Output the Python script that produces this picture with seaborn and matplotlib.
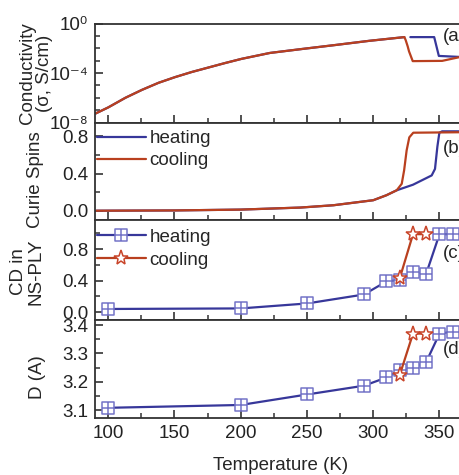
import numpy as np
import pandas as pd
import matplotlib
matplotlib.use("Agg")
import matplotlib.pyplot as plt
import seaborn as sns
from matplotlib.path import Path
from matplotlib.ticker import FixedLocator, MultipleLocator, NullFormatter, FormatStrFormatter

# ---------------- data ----------------
# (a) conductivity, shared part (log10 sigma)
cond_T_common = [90.5, 100, 113, 125.5, 138, 150.5, 163, 175.5, 188, 200.5, 222, 247, 272, 297, 323.5]
cond_log_common = [-7.27, -6.78, -6.0, -5.36, -4.79, -4.33, -3.92, -3.56, -3.20, -2.86, -2.38,
                   -2.05, -1.73, -1.40, -1.10]
cond_T_cool_hi = [324.5, 326.0, 327.0, 329.8, 352.0, 365.0]
cond_log_cool_hi = [-1.35, -1.85, -2.25, -3.04, -3.02, -2.72]
cond_T_heat_hi = [328.0, 346.0, 349.5, 365.0]
cond_log_heat_hi = [-1.10, -1.10, -2.62, -2.70]

# (b) Curie spins
spin_T_common = [91, 150, 200, 245, 270, 300, 310, 317.7]
spin_common = [0.0, 0.003, 0.012, 0.034, 0.059, 0.113, 0.167, 0.22]
spin_T_cool_hi = [321.5, 323.3, 325.2, 327.2, 330.2, 365]
spin_cool_hi = [0.29, 0.435, 0.65, 0.79, 0.84, 0.845]
spin_T_heat_hi = [330, 344.1, 346.6, 348.4, 349.9, 352, 365]
spin_heat_hi = [0.28, 0.38, 0.45, 0.69, 0.84, 0.855, 0.855]

# (c) CD in NS-PLY
cd_T_heat = [100, 200, 250, 293, 310, 320, 330, 340, 350, 360]
cd_heat = [0.04, 0.047, 0.11, 0.224, 0.39, 0.41, 0.506, 0.49, 0.99, 0.99]
cd_T_cool = [320, 330, 340]
cd_cool = [0.43, 0.99, 0.99]

# (d) D (A)
d_T_heat = [100, 200, 250, 293, 310, 320, 330, 340, 350, 360]
d_heat = [3.108, 3.118, 3.155, 3.186, 3.215, 3.24, 3.248, 3.27, 3.37, 3.377]
d_T_cool = [320, 330, 340]
d_cool = [3.224, 3.37, 3.37]

x_ticks = [100, 150, 200, 250, 300, 350]
cond_tick_labels = ["10\u207b\u2078", "10\u207b\u2074", "10\u2070"]
labels = ["heating", "cooling"]

# ---------------- style ----------------
sns.set_style("ticks")
plt.rcParams["font.family"] = ["Liberation Sans", "DejaVu Sans"]

FS = 13.5
BLUE = "#37379a"
RED = "#b9401f"
SQ_EDGE = "#7474c8"
STAR_EDGE = "#c9452a"
SPINE = "#333333"

fig = plt.figure(figsize=(4.6, 4.75), dpi=100)
W, H = 460.0, 475.0
left_px, right_px = 95.0, 466.0
panels_px = [(23.5, 122.5), (122.5, 220.0), (220.0, 320.0), (320.0, 418.0)]
axes = []
for top, bot in panels_px:
    ax = fig.add_axes([left_px / W, 1 - bot / H, (right_px - left_px) / W, (bot - top) / H])
    axes.append(ax)
axA, axB, axC, axD = axes

# square-with-plus marker
sq_plus = Path(
    [(-1, -1), (1, -1), (1, 1), (-1, 1), (-1, -1), (-1, 0), (1, 0), (0, -1), (0, 1)],
    [Path.MOVETO, Path.LINETO, Path.LINETO, Path.LINETO, Path.CLOSEPOLY,
     Path.MOVETO, Path.LINETO, Path.MOVETO, Path.LINETO],
)

# ---------------- (a) ----------------
heat_a = pd.DataFrame({
    "T": cond_T_common + cond_T_heat_hi,
    "sigma": [10 ** v for v in cond_log_common + cond_log_heat_hi],
    "seg": [0] * len(cond_T_common) + [1] * len(cond_T_heat_hi),
})
cool_a = pd.DataFrame({
    "T": cond_T_common + cond_T_cool_hi,
    "sigma": [10 ** v for v in cond_log_common + cond_log_cool_hi],
})
sns.lineplot(data=heat_a, x="T", y="sigma", units="seg", estimator=None, sort=False,
             ax=axA, color=BLUE, lw=1.6)
sns.lineplot(data=cool_a, x="T", y="sigma", estimator=None, sort=False,
             ax=axA, color=RED, lw=1.6)
axA.set_yscale("log")
axA.set_ylim(1e-8, 1)
axA.yaxis.set_major_locator(FixedLocator([1e-8, 1e-4, 1]))
axA.set_yticklabels(cond_tick_labels)
axA.yaxis.set_minor_locator(FixedLocator([10.0 ** k for k in range(-7, 0)]))
axA.yaxis.set_minor_formatter(NullFormatter())

# ---------------- (b) ----------------
heat_b = pd.DataFrame({"T": spin_T_common + spin_T_heat_hi, "v": spin_common + spin_heat_hi})
cool_b = pd.DataFrame({"T": spin_T_common + spin_T_cool_hi, "v": spin_common + spin_cool_hi})
sns.lineplot(data=heat_b, x="T", y="v", estimator=None, sort=False, ax=axB, color=BLUE, lw=1.6, label=labels[0])
sns.lineplot(data=cool_b, x="T", y="v", estimator=None, sort=False, ax=axB, color=RED, lw=1.6, label=labels[1])
axB.set_ylim(-0.1, 0.95)
axB.yaxis.set_major_locator(FixedLocator([0.0, 0.4, 0.8]))
axB.yaxis.set_minor_locator(MultipleLocator(0.2))

# ---------------- (c) ----------------
mk_heat = dict(marker=sq_plus, markersize=8, markerfacecolor="white",
               markeredgecolor=SQ_EDGE, markeredgewidth=1.1)
mk_cool = dict(marker="*", markersize=11, markerfacecolor="white",
               markeredgecolor=STAR_EDGE, markeredgewidth=1.1)
sns.lineplot(x=cd_T_heat, y=cd_heat, estimator=None, sort=False, ax=axC, color=BLUE, lw=1.6,
             label=labels[0], **mk_heat)
sns.lineplot(x=cd_T_cool, y=cd_cool, estimator=None, sort=False, ax=axC, color=RED, lw=1.6,
             label=labels[1], **mk_cool)
axC.set_ylim(-0.1, 1.17)
axC.yaxis.set_major_locator(FixedLocator([0.0, 0.4, 0.8]))
axC.yaxis.set_minor_locator(MultipleLocator(0.2))

# ---------------- (d) ----------------
sns.lineplot(x=d_T_heat, y=d_heat, estimator=None, sort=False, ax=axD, color=BLUE, lw=1.6, **mk_heat)
sns.lineplot(x=d_T_cool, y=d_cool, estimator=None, sort=False, ax=axD, color=RED, lw=1.6, **mk_cool)
axD.set_ylim(3.072, 3.418)
axD.yaxis.set_major_locator(FixedLocator([3.1, 3.2, 3.3, 3.4]))
axD.yaxis.set_minor_locator(MultipleLocator(0.05))

# ---------------- common formatting ----------------
for ax in axes:
    ax.set_xlim(90, 370)
    ax.xaxis.set_major_locator(FixedLocator(x_ticks))
    ax.xaxis.set_minor_locator(MultipleLocator(25))
    ax.tick_params(axis="both", which="both", direction="in", top=False, right=False,
                   color=SPINE, labelsize=FS, labelcolor="#222222")
    ax.tick_params(axis="both", which="major", length=6, width=1.2, pad=5)
    ax.tick_params(axis="both", which="minor", length=3.5, width=1.1)
    for s in ax.spines.values():
        s.set_color(SPINE)
        s.set_linewidth(1.3)
    ax.set_xlabel("")
    ax.set_ylabel("")
    if ax is not axD:
        ax.set_xticklabels([])

for ax in (axB, axC, axD):
    ax.yaxis.set_major_formatter(FormatStrFormatter("%.1f"))

axD.set_xlabel("Temperature (K)", fontsize=FS, labelpad=11)

ylabs = [
    (axA, "Conductivity\n(\u03c3, S/cm)", -0.114, 0.5),
    (axB, "Curie Spins", -0.137, 0.41),
    (axC, "CD in\nNS-PLY", -0.137, 0.48),
    (axD, "D (A)", -0.132, 0.42),
]
for ax, txt, xx, yy in ylabs:
    ax.set_ylabel(txt, fontsize=FS, linespacing=1.0)
    ax.yaxis.set_label_coords(xx, yy)

for ax, lab, yy in [(axA, "(a)", 0.864), (axB, "(b)", 0.738), (axC, "(c)", 0.66), (axD, "(d)", 0.694)]:
    ax.text(0.938, yy, lab, transform=ax.transAxes, fontsize=FS, va="center", ha="left")

for ax, ytop, lsp in ((axB, 0.94, 0.25), (axC, 0.93, 0.3)):
    ax.legend(loc="upper left", bbox_to_anchor=(0.0, ytop), frameon=False, fontsize=FS,
              borderpad=0.1, borderaxespad=0.0, handlelength=2.6, handletextpad=0.2,
              labelspacing=lsp)

fig.savefig("out.png", dpi=100)
